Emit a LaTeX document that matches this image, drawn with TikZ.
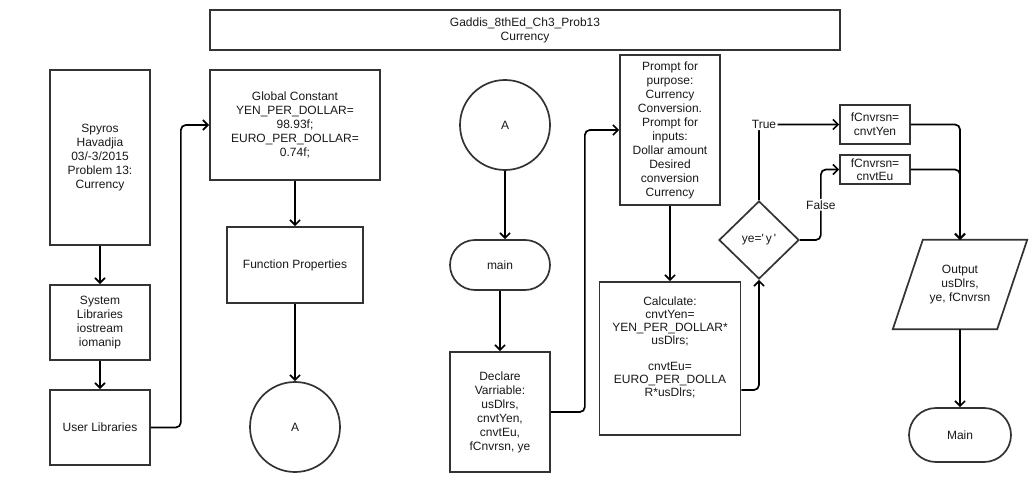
\documentclass[tikz,border=0pt]{standalone}
\usepackage{fontspec}
\setmainfont{Liberation Sans}
\usetikzlibrary{shapes.geometric,shapes.misc,arrows.meta,calc}
\definecolor{boxc}{HTML}{333333}
\begin{document}
\begin{tikzpicture}[x=1pt,y=-1pt,
  every node/.style={font=\fontsize{12}{14}\selectfont, text=black!90, align=center, inner sep=0pt},
  blk/.style={draw=boxc, line width=1.7pt, rectangle},
  circ/.style={draw=boxc, line width=1.7pt, circle, minimum size=90pt},
  term/.style={draw=boxc, line width=1.7pt, rounded rectangle},
  boxline/.style={draw=boxc, line width=1.7pt},
  conn/.style={draw=black, line width=1.7pt, rounded corners=5pt, -{Straight Barb[length=5pt,width=10pt,line width=1.7pt]}},
  lbl/.style={fill=white, inner sep=1.5pt}]
\useasboundingbox (0,0) rectangle (1036,492);
\fill[white] (0,0) rectangle (1036,492);
% nodes
\node[blk, minimum width=630pt, minimum height=40pt] (title) at (525,30) {Gaddis\_8thEd\_Ch3\_Prob13\\Currency};
\node[blk, minimum width=100pt, minimum height=175pt] (spy) at (100,157.5) {Spyros\\Havadjia\\03/-3/2015\\Problem 13:\\Currency};
\node[blk, minimum width=100pt, minimum height=75pt] (sys) at (100,322.5) {System\\Libraries\\iostream\\iomanip};
\node[blk, minimum width=100pt, minimum height=75pt] (user) at (100,427.5) {User Libraries};
\node[blk, minimum width=170pt, minimum height=110pt] (glob) at (295,125) {Global Constant\\YEN\_PER\_DOLLAR=\\98.93f;\\EURO\_PER\_DOLLAR=\\0.74f;};
\node[blk, minimum width=136pt, minimum height=76pt] (func) at (295,265) {Function Properties};
\node[circ] (a1) at (295,427) {A};
\node[circ] (a2) at (505,125) {A};
\node[term, minimum width=100pt, minimum height=50pt] (main) at (500,265) {main};
\node[blk, minimum width=100pt, minimum height=120pt] (decl) at (500,412) {Declare\\Varriable:\\usDlrs,\\cnvtYen,\\cnvtEu,\\fCnvrsn, ye};
\node[blk, minimum width=100pt, minimum height=150pt] (prompt) at (670,130) {Prompt for\\purpose:\\Currency\\Conversion.\\Prompt for\\inputs:\\Dollar amount\\Desired\\conversion\\Currency};
\node[blk, minimum width=141pt, minimum height=153pt] (calc) at (670,358.5) {};
\node[font=\fontsize{12}{13}\selectfont] (calct) at (670,347) {Calculate:\\cnvtYen=\\YEN\_PER\_DOLLAR*\\usDlrs;\\[13pt]cnvtEu=\\EURO\_PER\_DOLLA\\R*usDlrs;};
\node[draw=boxc, line width=1.7pt, diamond, minimum width=80pt, minimum height=78pt] (dia) at (759,240) {ye=\textquotesingle\,y\,\textquotesingle};
\node[blk, minimum width=70pt, minimum height=39pt] (yen) at (875,124.5) {fCnvrsn=\\cnvtYen};
\node[blk, minimum width=70pt, minimum height=29pt, font=\fontsize{12}{13}\selectfont] (eu) at (875,169.5) {fCnvrsn=\\cnvtEu};
\node[minimum width=134pt, minimum height=89pt] (out) at (960,284.5) {Output\\usDlrs,\\ye, fCnvrsn};
\draw[boxline] (out.south west) -- ($(out.south east)+(-30,0)$) -- (out.north east) -- ($(out.north west)+(30,0)$) -- cycle;
\node[term, minimum width=102pt, minimum height=54pt] (mainend) at (960,435) {Main};
% connectors
\draw[conn] (spy.south) -- (sys.north);
\draw[conn] (sys.south) -- (user.north);
\draw[conn] (user.east) -- ++(30,0) |- (glob.west);
\draw[conn] (glob.south) -- (func.north);
\draw[conn] (func.south) -- (a1.north);
\draw[conn] (a2.south) -- (a2.south |- main.north);
\draw[conn] (main.south) -- (decl.north);
\draw[conn] (decl.east) -- ++(34,0) |- (prompt.west);
\draw[conn] (prompt.south) -- (calc.north);
\draw[conn] ($(calc.east)+(0,31.5)$) -| (dia.south);
\draw[conn] (dia.north) |- node[pos=0.5, lbl, xshift=5pt] {True} (yen.west);
\draw[conn] (dia.east) -- ++(21,0) |- node[pos=0.25, lbl] {False} (eu.west);
\draw[conn] (yen.east) -| (out.north);
\draw[conn] (eu.east) -| (out.north);
\draw[conn] (out.south) -- (mainend.north);
\end{tikzpicture}
\end{document}
